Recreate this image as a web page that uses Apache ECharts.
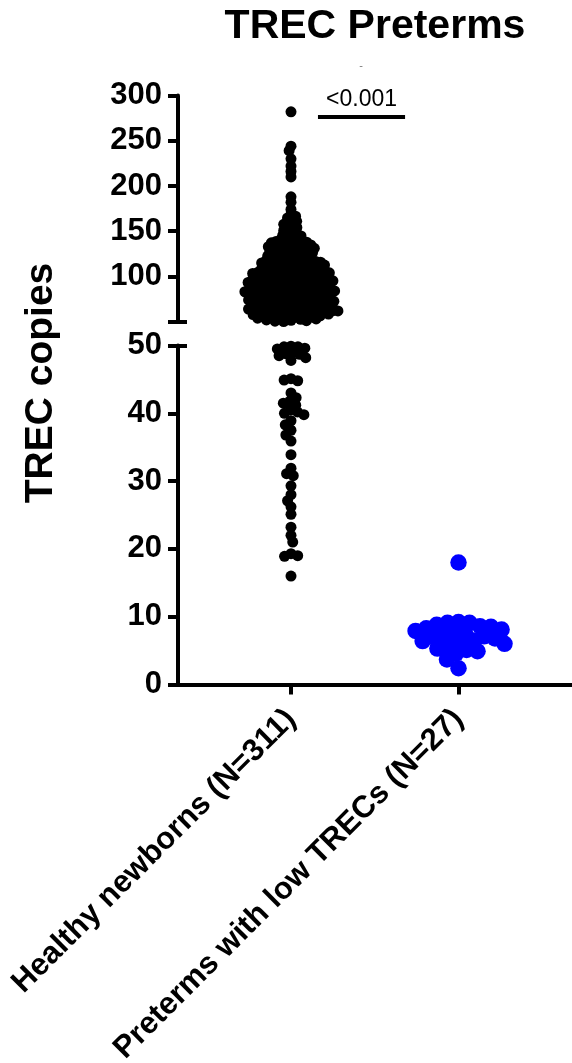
<!DOCTYPE html>
<html><head><meta charset="utf-8">
<script src="https://cdn.jsdelivr.net/npm/echarts@6/dist/echarts.min.js"></script>
<style>html,body{margin:0;padding:0;background:#fff}#c{width:572px;height:1063px}</style>
</head><body><div id="c"></div>
<script>
const categories = ['Healthy newborns (N=311)', 'Preterms with low TRECs (N=27)'];
// Healthy newborns TREC copies (N=311)
const healthy = [
  // > 50 (upper segment)
  282, 244, 239, 230, 222, 216, 210, 188.0, 182.0, 174.0,
  168.5, 166.6, 164.7, 162.8, 160.9,
  159.3, 157.6, 155.9, 154.2, 152.5, 150.8,
  149.0, 147.6, 146.2, 145.5, 144.8, 143.4, 142.0, 141.3, 140.6,
  139.5, 138.7, 138.0, 137.8, 137.2, 136.4, 135.7, 135.3, 134.9, 134.1, 133.4, 132.9, 132.6, 131.8, 131.1, 130.7, 130.3,
  129.5, 128.8, 128.1, 127.8, 127.4, 126.7, 126.0, 125.3, 124.6, 124.2, 123.9, 123.2, 122.5, 121.8, 121.5, 121.1, 120.4, 119.7, 119.0, 118.7, 118.3,
  117.8, 117.4, 117.0, 116.6, 116.2, 115.8, 115.4, 115.0, 114.6, 114.2, 113.8, 113.4, 113.0, 112.6, 112.2, 111.8, 111.4, 111.0, 110.6, 110.2,
  109.7, 109.3, 108.9, 108.5, 108.2, 107.8, 107.5, 107.1, 106.8, 106.4, 106.1, 105.7, 105.4, 105.0,
  104.7, 104.3, 104.0, 103.6, 103.3, 102.9, 102.6, 102.2, 101.9, 101.5, 101.2, 100.8, 100.5, 100.2,
  99.8, 99.4, 99.0, 98.6, 98.2, 97.9, 97.6, 97.3, 97.0, 96.7, 96.4, 96.1,
  95.8, 95.5, 95.2, 94.9, 94.6, 94.3, 94.0, 93.7, 93.4, 93.1, 92.8, 92.5, 92.2, 91.9, 91.6, 91.3, 91.0, 90.7, 90.4, 90.1,
  89.4, 89.1, 88.8, 88.5, 88.2, 87.9, 87.6, 87.3, 87.0, 86.7, 86.4, 86.1, 85.8, 85.5, 85.2,
  84.9, 84.6, 84.3, 84.0, 83.7, 83.4, 83.1, 82.8, 82.5, 82.2, 81.9, 81.6, 81.3, 81.0, 80.7, 80.4,
  79.4, 79.1, 78.8, 78.5, 78.2, 77.9, 77.6, 77.3, 77.0, 76.7, 76.4, 76.1, 75.8, 75.5, 75.2,
  74.9, 74.6, 74.3, 74.0, 73.7, 73.4, 73.1, 72.8, 72.5, 72.2, 71.9, 71.6, 71.3, 71.0, 70.7, 70.4,
  69.5, 69.2, 68.9, 68.6, 68.3, 68.0, 67.7, 67.4, 67.1, 66.8, 66.5, 66.2, 65.9, 65.6, 65.4,
  65.1, 64.8, 64.5, 64.2, 63.9, 63.6, 63.4, 63.1, 62.8, 62.5, 62.2, 61.9, 61.6, 61.3, 61.0, 60.7, 60.4, 60.1,
  59.8, 59.5, 59.1, 58.8, 58.5, 58.2, 57.9, 57.5, 57.2, 56.8, 56.5, 56.1, 55.8, 55.4, 55.1,
  54.8, 54.3, 53.9, 53.4, 53.0, 52.6, 52.0, 51.5, 51.1, 50.6, 50.2,
  // < 50 (lower segment)
  49.9, 49.8, 49.8, 49.6, 49.5, 48.9, 48.8, 48.7, 48.5, 48.2, 47.8, 45.1, 44.9, 44.8, 43.0, 42.3, 41.8, 41.5, 41.2,
  40.5, 40.2, 40.0, 39.8, 38.9, 38.3, 37.5, 36.8, 35.9, 33.9, 31.9, 31.1, 30.8, 29.3, 28.0, 27.1, 26.2, 25.1, 23.2,
  22.0, 21.0, 19.3, 19.0, 18.9, 16.0
];
// Preterms with low TRECs (N=27)
const preterms = [18.0, 9.2, 9.1, 9.1, 8.8, 8.6, 8.5, 8.3, 8.1, 7.9, 7.7, 7.5, 7.3, 7.1, 7.0, 6.8, 6.5, 6.4, 6.2, 6.0, 5.7, 5.3, 5.1, 4.9, 4.6, 3.7, 2.4];
const upperRange = [50, 300];
const lowerRange = [0, 50];
const pValue = '<0.001';

const BREAK = 50;
const healthyUpper = healthy.filter(v => v > BREAK);
const healthyLower = healthy.filter(v => v <= BREAK);
const XMIN = -0.6746, XMAX = 1.6776;
const FONT = 'Liberation Sans, Arial, Helvetica, sans-serif';

const chart = echarts.init(document.getElementById('c'), null, {renderer: 'canvas'});

const tickStyle = {color: '#000', width: 4};
function mainY(grid, range, interval, hideMin) {
  return {
    type: 'value', gridIndex: grid, position: 'left', min: range[0], max: range[1], interval: interval,
    axisLine: {show: true, onZero: false, lineStyle: {color: '#000', width: 4}},
    axisTick: {show: true, inside: false, length: 10, lineStyle: tickStyle},
    axisLabel: {show: true, margin: 16, color: '#000', fontSize: 31, fontWeight: 'bold', fontFamily: FONT,
      formatter: v => (hideMin && v === range[0]) ? '' : String(v)},
    splitLine: {show: false}
  };
}
function capY(grid, range) {
  return {
    type: 'value', gridIndex: grid, position: 'left', offset: 0, min: range[0], max: range[1],
    axisLine: {show: false, onZero: false},
    axisTick: {show: true, inside: true, length: 9, customValues: [BREAK], lineStyle: tickStyle},
    axisLabel: {show: false}, splitLine: {show: false}
  };
}

const baseOption = {
  animation: false,
  backgroundColor: '#fff',
  grid: [
    {left: 178, right: 0, top: 95.5, height: 226.2, containLabel: false, outerBoundsMode: 'none'},
    {left: 178, right: 0, top: 345.5, height: 339, containLabel: false, outerBoundsMode: 'none'}
  ],
  xAxis: [
    {type: 'value', gridIndex: 0, min: XMIN, max: XMAX, show: false, splitLine: {show: false}},
    {type: 'value', gridIndex: 1, min: XMIN, max: XMAX,
      axisLine: {show: true, onZero: false, lineStyle: {color: '#000', width: 4}},
      axisTick: {show: true, length: 10, customValues: [0, 1], lineStyle: tickStyle},
      axisLabel: {show: true, customValues: [0, 1], rotate: 45, margin: 30, color: '#000', fontSize: 31,
        fontWeight: 'bold', fontFamily: FONT, formatter: v => categories[Math.round(v)]},
      splitLine: {show: false}}
  ],
  yAxis: [
    mainY(0, upperRange, 50, true),
    mainY(1, lowerRange, 10, false),
    capY(0, upperRange),
    capY(1, lowerRange)
  ],
  graphic: [
    {type: 'text', x: 375, y: 27, style: {text: 'TREC Preterms', font: 'bold 41px ' + FONT, fill: '#000',
      textAlign: 'center', textVerticalAlign: 'middle', align: 'center', verticalAlign: 'middle'}},
    {type: 'text', x: 41, y: 383, rotation: Math.PI / 2, style: {text: 'TREC copies', font: 'bold 39px ' + FONT, fill: '#000',
      textAlign: 'center', textVerticalAlign: 'middle', align: 'center', verticalAlign: 'middle'}},
    {type: 'text', x: 361, y: 66, style: {text: '-', font: '11px ' + FONT, fill: '#777',
      textAlign: 'center', textVerticalAlign: 'middle', align: 'center', verticalAlign: 'middle'}}
  ],
  series: [
    {name: 'healthyUpper', type: 'scatter', xAxisIndex: 0, yAxisIndex: 0, symbolSize: 11,
      itemStyle: {color: '#000', opacity: 1}, data: healthyUpper.map(v => [0, v]),
      markLine: {silent: true, symbol: ['none', 'none'], lineStyle: {color: '#000', width: 4, type: 'solid'},
        label: {show: true, position: 'middle', formatter: pValue, color: '#000', fontSize: 23, fontFamily: FONT, distance: 5},
        data: [[{coord: [0.161, 277]}, {coord: [0.681, 277]}]]}},
    {name: 'healthyLower', type: 'scatter', xAxisIndex: 1, yAxisIndex: 1, symbolSize: 11,
      itemStyle: {color: '#000', opacity: 1}, data: healthyLower.map(v => [0, v])},
    {name: 'preterms', type: 'scatter', xAxisIndex: 1, yAxisIndex: 1, symbolSize: 16.5,
      itemStyle: {color: '#0000ff', opacity: 1}, data: preterms.map(v => [1, v])}
  ]
};
chart.setOption(baseOption);

// beeswarm layout in pixel space (collision diameter d may be smaller than the symbol to allow overlap)
function swarm(pys, d) {
  const order = pys.map((y, i) => i).sort((a, b) => pys[a] - pys[b]);
  const placed = [];
  const out = new Array(pys.length);
  let flip = 1;
  for (const i of order) {
    const y = pys[i];
    const near = placed.filter(p => Math.abs(p.y - y) < d);
    const cands = [0];
    for (const p of near) {
      const dx = Math.sqrt(d * d - (p.y - y) * (p.y - y));
      cands.push(p.x + dx, p.x - dx);
    }
    cands.sort((a, b) => (Math.abs(a) - Math.abs(b)) || (flip * (a - b)));
    let x = 0;
    for (const c of cands) {
      if (near.every(p => (p.x - c) * (p.x - c) + (p.y - y) * (p.y - y) >= d * d - 1e-6)) { x = c; break; }
    }
    flip = -flip;
    placed.push({x, y});
    out[i] = x;
  }
  return out;
}
function layout(values, center, xi, yi, d) {
  const finder = {xAxisIndex: xi, yAxisIndex: yi};
  const p0 = chart.convertToPixel(finder, [center, values[0]]);
  const p1 = chart.convertToPixel(finder, [center + 1, values[0]]);
  const ppu = p1[0] - p0[0];
  const pys = values.map(v => chart.convertToPixel(finder, [center, v])[1]);
  const offs = swarm(pys, d);
  return values.map((v, i) => [center + offs[i] / ppu, v]);
}
chart.setOption({
  series: [
    {name: 'healthyUpper', data: layout(healthyUpper, 0, 0, 0, 4.9)},
    {name: 'healthyLower', data: layout(healthyLower, 0, 1, 1, 7)},
    {name: 'preterms', data: layout(preterms, 1, 1, 1, 11)}
  ]
});
</script>
</body></html>
